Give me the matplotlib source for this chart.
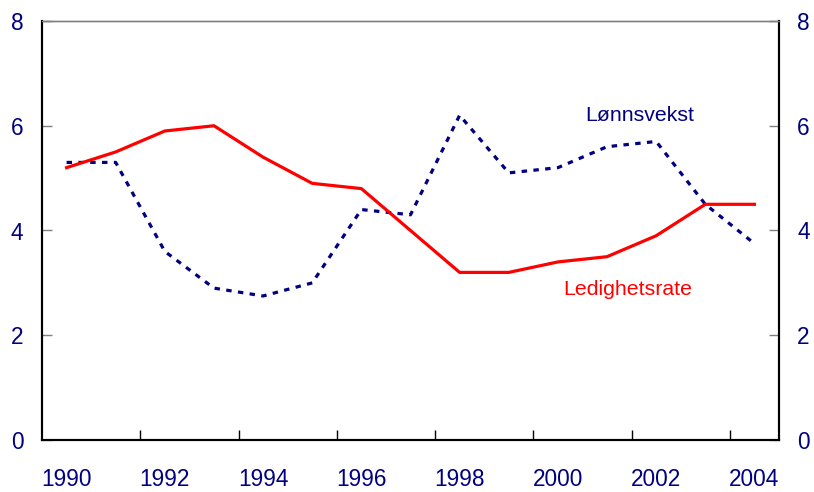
import numpy as np
import matplotlib.pyplot as plt

plt.rcParams['font.family'] = ['Liberation Sans', 'DejaVu Sans']

# -------------------------------
# Data
# -------------------------------
years = list(range(1990, 2005))
ledighet = [5.2, 5.5, 5.9, 6.0, 5.4, 4.9, 4.8, 4.0, 3.2, 3.2, 3.4, 3.5, 3.9, 4.5, 4.5]
lonnsvekst = [5.3, 5.3, 3.6, 2.9, 2.75, 3.0, 4.4, 4.3, 6.2, 5.1, 5.2, 5.6, 5.7, 4.5, 3.75]
yticks = [0, 2, 4, 6, 8]

NAVY = '#000080'
RED = '#ff0000'

x = np.arange(len(years))

fig = plt.figure(figsize=(8.14, 4.92), dpi=100)
ax = fig.add_axes([42 / 814, 52 / 492, 737 / 814, 419 / 492])

ax.plot(x, lonnsvekst, color=NAVY, lw=2.3, linestyle=(0, (1.7, 2.0)))
ax.plot(x, ledighet, color=RED, lw=2.3)

ax.set_xlim(-0.5, len(years) - 0.5)
ax.set_ylim(0, 8)

# x-akse: tick-streker mellom kategorier, etiketter annethvert år
ax.set_xticks(np.arange(1.5, len(years) - 1, 2))
ax.set_xticklabels([])
ax.set_xticks(x[::2], minor=True)
ax.set_xticklabels([str(y) for y in years[::2]], minor=True)
ax.tick_params(axis='x', which='major', direction='in', length=7, color='black', width=1)
ax.tick_params(axis='x', which='minor', length=0, pad=20, labelsize=16.3, labelcolor=NAVY)

ax.set_yticks(yticks)
ax.tick_params(axis='y', direction='in', length=7, color='#808080', width=1,
               pad=13.5, labelsize=16.3, labelcolor=NAVY)

ax2 = ax.twinx()
ax2.set_ylim(0, 8)
ax2.set_yticks(yticks)
ax2.tick_params(axis='y', direction='in', length=7, color='#808080', width=1,
                pad=13, labelsize=16.3, labelcolor=NAVY)

for a in (ax, ax2):
    a.spines['left'].set_color('black')
    a.spines['bottom'].set_color('black')
    a.spines['right'].set_color('black')
    a.spines['top'].set_color('#808080')
    for s in ('left', 'bottom', 'right'):
        a.spines[s].set_linewidth(1.5)
    a.spines['top'].set_linewidth(1.0)

ax.text(11.66, 6.2, 'Lønnsvekst', color=NAVY, fontsize=15.3, ha='center', va='center')
ax.text(11.43, 2.88, 'Ledighetsrate', color=RED, fontsize=15.3, ha='center', va='center')

fig.savefig('out.png', dpi=100)
